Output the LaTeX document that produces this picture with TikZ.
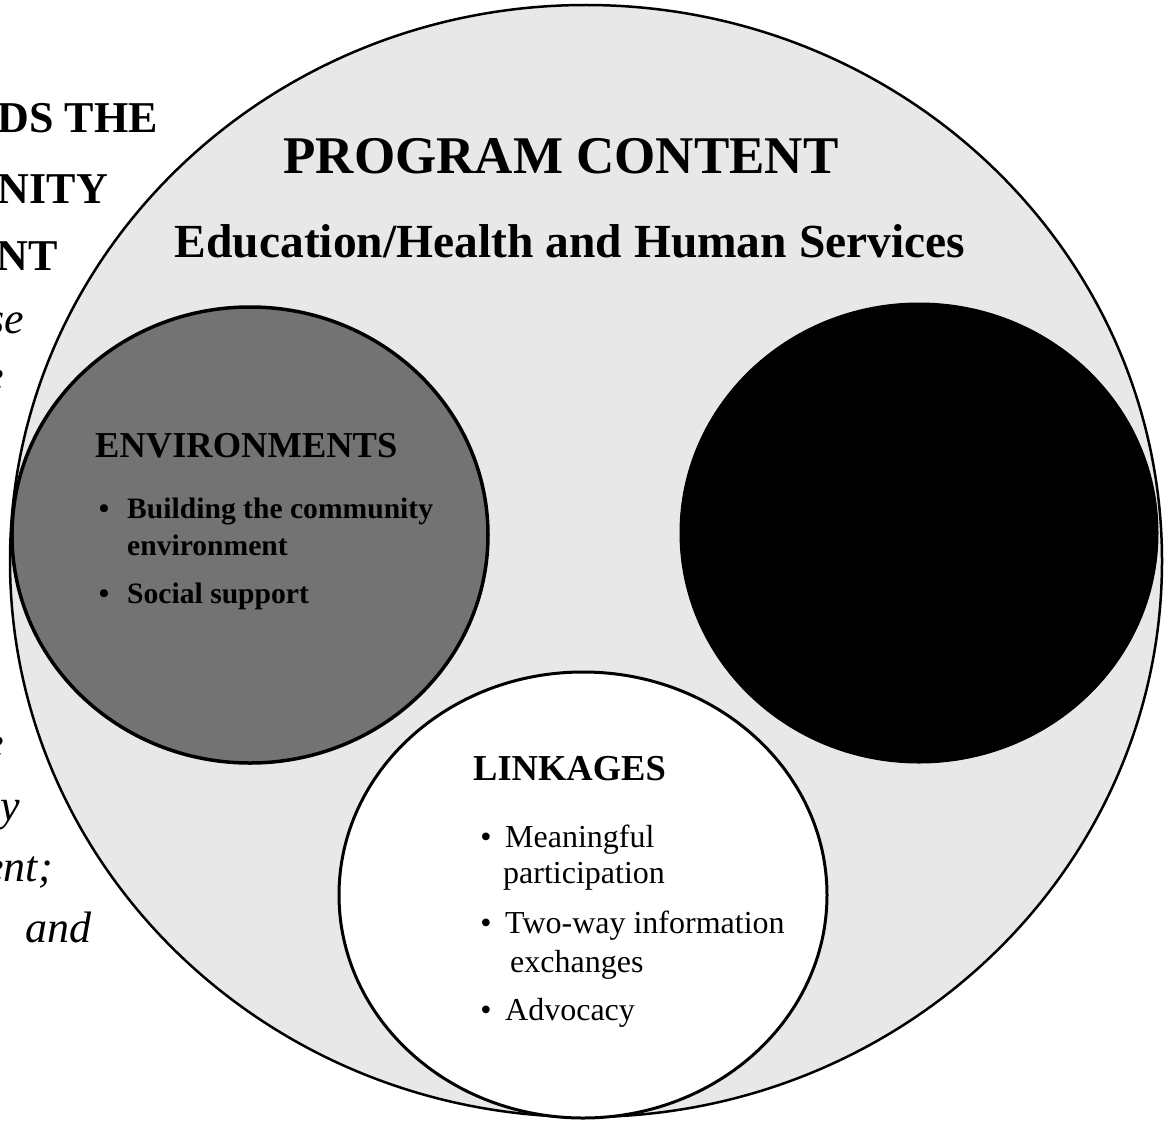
\documentclass[tikz,border=0pt]{standalone}
\usepackage{fontspec}
\setmainfont{Liberation Serif}
\usetikzlibrary{shapes.geometric}
\begin{document}
\begin{tikzpicture}[x=1pt,y=-1pt,
  circ/.style={ellipse, inner sep=0pt, outer sep=0pt},
  sidebold/.style={font=\fontsize{44}{50}\selectfont\bfseries, inner sep=0pt, anchor=base east},
  sideital/.style={font=\fontsize{44}{50}\selectfont\itshape, inner sep=0pt, anchor=base east},
  titlebig/.style={font=\fontsize{53}{60}\selectfont\bfseries, inner sep=0pt, anchor=base},
  titlesub/.style={font=\fontsize{47.5}{54}\selectfont\bfseries, inner sep=0pt, anchor=base},
  envhead/.style={font=\fontsize{36.5}{42}\selectfont\bfseries, inner sep=0pt, anchor=base west},
  envitem/.style={font=\fontsize{29.6}{34}\selectfont\bfseries, inner sep=0pt, anchor=base west},
  linkhead/.style={font=\fontsize{36.5}{42}\selectfont\bfseries, inner sep=0pt, anchor=base west},
  linkitem/.style={font=\fontsize{32}{36}\selectfont, inner sep=0pt, anchor=base west},
  bul/.style={inner sep=0pt, anchor=base}]
\useasboundingbox (0,0) rectangle (1167,1121);
\clip (0,0) rectangle (1167,1121);
\fill[white] (0,0) rectangle (1167,1121);

% left text, cut by the page edge
\node[sidebold] (l1) at (158,133) {DS THE};
\node[sidebold] (l2) at (108,203) {NITY};
\node[sidebold] (l3) at (58,270) {NT};
\node[sideital] (l4) at (24,333) {se};
\node[sideital] (l5) at (4,390) {e};
\node[sideital] (l6) at (4,757) {e};
\node[sideital] (l7) at (20,820) {y};
\node[sideital] (l8) at (53,881) {ent;};
\node[sideital, anchor=base west] (l9) at (25,942) {and};

% big circle
\node[circ, fill=black!9, draw=black, line width=2.5pt,
      minimum width=1152pt, minimum height=1112pt] (big) at (586,561) {};
% environments circle
\node[circ, fill=black!55, draw=black, line width=3.5pt,
      minimum width=476pt, minimum height=456pt] (env) at (250,535) {};
% black circle
\node[circ, fill=black, draw=black, line width=1pt,
      minimum width=478pt, minimum height=460pt] (blk) at (919,533) {};
% linkages circle
\node[circ, fill=white, draw=black, line width=3pt,
      minimum width=488pt, minimum height=446pt] (lnk) at (583,895) {};

% titles
\node[titlebig] (t1) at (561,173) {PROGRAM CONTENT};
\node[titlesub] (t2) at (570,257) {Education/Health and Human Services};

% environments text
\node[envhead] (eh) at (95,457) {ENVIRONMENTS};
\node[envitem, font=\fontsize{29.6}{34}\selectfont\bfseries, anchor=base] (eb1) at (104,518) {\textbullet};
\node[envitem] (e1) at (127,518) {Building the community};
\node[envitem] (e2) at (127,555) {environment};
\node[envitem, anchor=base] (eb2) at (104,603) {\textbullet};
\node[envitem] (e3) at (127,603) {Social support};

% linkages text
\node[linkhead] (lh) at (473,780) {LINKAGES};
\node[linkitem, anchor=base] (b1) at (486,847) {\textbullet};
\node[linkitem] (k1) at (505,847) {Meaningful};
\node[linkitem] (k2) at (503,883) {participation};
\node[linkitem, anchor=base] (b2) at (486,933) {\textbullet};
\node[linkitem] (k3) at (505,933) {Two-way information};
\node[linkitem] (k4) at (510,972) {exchanges};
\node[linkitem, anchor=base] (b3) at (486,1020) {\textbullet};
\node[linkitem] (k5) at (505,1020) {Advocacy};
\end{tikzpicture}
\end{document}
